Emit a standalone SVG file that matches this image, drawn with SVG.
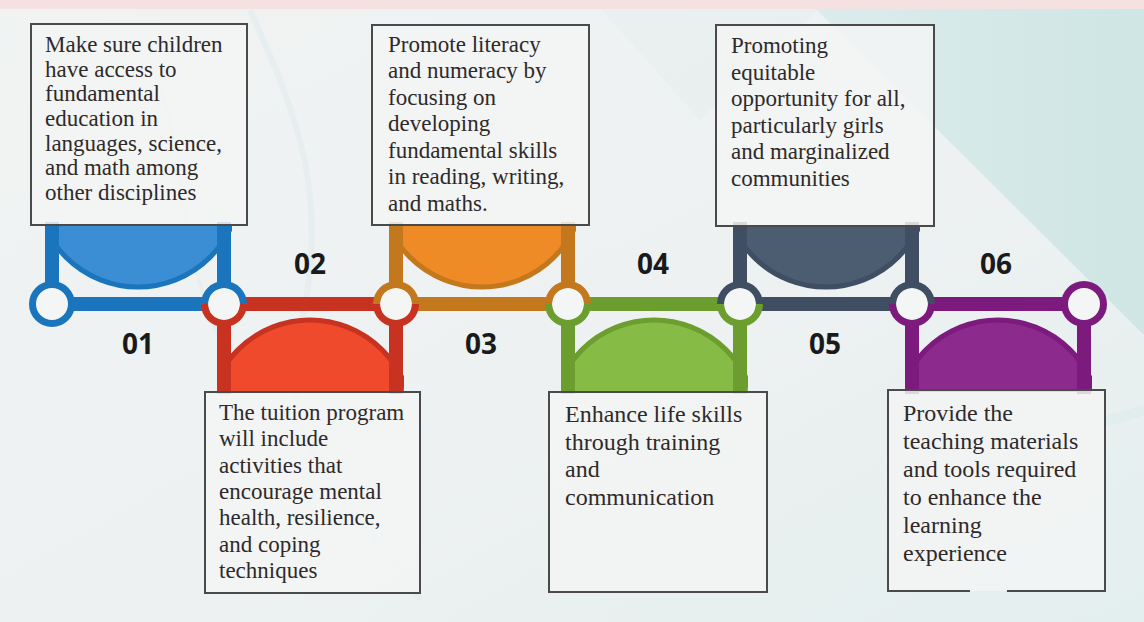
<svg xmlns="http://www.w3.org/2000/svg" width="1144" height="622" viewBox="0 0 1144 622">
<defs>
<style>
.box{fill:#f3f5f5;fill-opacity:0.85;stroke:#4a4a4a;stroke-width:2}
.txt{font-family:"Liberation Serif","Times New Roman",serif;font-size:23px;fill:#2e2a2a}
.num{font-family:"Open Sans","Liberation Sans",sans-serif;font-weight:700;font-size:28px;fill:#1a1a1a;text-anchor:middle}
.hole{fill:#f4f6f6}
</style>
<linearGradient id="bg" x1="0" y1="0" x2="1" y2="1">
<stop offset="0" stop-color="#f1f3f3"/>
<stop offset="0.6" stop-color="#edf1f1"/>
<stop offset="1" stop-color="#e3eeee"/>
</linearGradient>
<linearGradient id="teal" x1="0" y1="0" x2="1" y2="0">
<stop offset="0" stop-color="#dbeceb"/>
<stop offset="1" stop-color="#cfe6e4"/>
</linearGradient>
<clipPath id="c1"><rect x="45" y="225" width="187" height="80"/></clipPath>
<clipPath id="c2"><rect x="217" y="304" width="187" height="88"/></clipPath>
<clipPath id="c3"><rect x="389" y="225" width="187" height="80"/></clipPath>
<clipPath id="c4"><rect x="561" y="304" width="187" height="88"/></clipPath>
<clipPath id="c5"><rect x="733" y="225" width="187" height="80"/></clipPath>
<clipPath id="c6"><rect x="905" y="304" width="187" height="88"/></clipPath>
</defs>

<!-- background -->
<rect x="0" y="0" width="1144" height="622" fill="url(#bg)"/>
<polygon points="815,8 1144,8 1144,335" fill="url(#teal)"/>
<polygon points="600,8 820,8 700,120" fill="#e6efef" opacity="0.6"/>
<rect x="0" y="0" width="1144" height="9" fill="#f6e1e2"/>
<path d="M250,10 C300,120 330,200 300,330 S360,500 420,600" fill="none" stroke="#d5e6ea" stroke-width="6" opacity="0.3"/>
<path d="M150,60 C190,140 170,260 240,380" fill="none" stroke="#dbe8ec" stroke-width="4" opacity="0.3"/>
<path d="M900,470 C980,430 1060,440 1144,410" fill="none" stroke="#dbe9ea" stroke-width="10" opacity="0.5"/>

<!-- step frames -->
<g id="step-01">
<circle cx="138" cy="185" r="102" fill="#3b8ed3" stroke="#1b75bc" stroke-width="5" clip-path="url(#c1)"/>
<path d="M52,222 V304 H224 V222" fill="none" stroke="#1b75bc" stroke-width="14"/>
</g>
<g id="step-02">
<circle cx="310" cy="422" r="102" fill="#ef4a2c" stroke="#c83220" stroke-width="5" clip-path="url(#c2)"/>
<path d="M224,394 V304 H396 V394" fill="none" stroke="#c83220" stroke-width="14"/>
</g>
<g id="step-03">
<circle cx="482" cy="185" r="102" fill="#ef8b26" stroke="#c4781d" stroke-width="5" clip-path="url(#c3)"/>
<path d="M396,222 V304 H568 V222" fill="none" stroke="#c4781d" stroke-width="14"/>
</g>
<g id="step-04">
<circle cx="654" cy="422" r="102" fill="#86bb46" stroke="#6c9d2f" stroke-width="5" clip-path="url(#c4)"/>
<path d="M568,394 V304 H740 V394" fill="none" stroke="#6c9d2f" stroke-width="14"/>
</g>
<g id="step-05">
<circle cx="826" cy="185" r="102" fill="#4c5d72" stroke="#3f4e62" stroke-width="5" clip-path="url(#c5)"/>
<path d="M740,222 V304 H912 V222" fill="none" stroke="#3f4e62" stroke-width="14"/>
</g>
<g id="step-06">
<circle cx="998" cy="422" r="102" fill="#8c2a8d" stroke="#7d1a7e" stroke-width="5" clip-path="url(#c6)"/>
<path d="M912,394 V304 H1084 V394" fill="none" stroke="#7d1a7e" stroke-width="14"/>
</g>

<!-- rings (joints) -->
<g id="connectors" fill="none" stroke-width="7">
<circle cx="52" cy="304" r="19.5" class="hole" stroke="#1b75bc"/>
<g>
<circle cx="224" cy="304" r="16" class="hole" stroke="none"/>
<path d="M204.5,304 A19.5,19.5 0 0 1 243.5,304" stroke="#1b75bc"/>
<path d="M204.5,304 A19.5,19.5 0 0 0 243.5,304" stroke="#c83220"/>
</g>
<g>
<circle cx="396" cy="304" r="16" class="hole" stroke="none"/>
<path d="M376.5,304 A19.5,19.5 0 0 1 415.5,304" stroke="#c4781d"/>
<path d="M376.5,304 A19.5,19.5 0 0 0 415.5,304" stroke="#c83220"/>
</g>
<g>
<circle cx="568" cy="304" r="16" class="hole" stroke="none"/>
<path d="M548.5,304 A19.5,19.5 0 0 1 587.5,304" stroke="#c4781d"/>
<path d="M548.5,304 A19.5,19.5 0 0 0 587.5,304" stroke="#6c9d2f"/>
</g>
<g>
<circle cx="740" cy="304" r="16" class="hole" stroke="none"/>
<path d="M720.5,304 A19.5,19.5 0 0 1 759.5,304" stroke="#3f4e62"/>
<path d="M720.5,304 A19.5,19.5 0 0 0 759.5,304" stroke="#6c9d2f"/>
</g>
<g>
<circle cx="912" cy="304" r="16" class="hole" stroke="none"/>
<path d="M892.5,304 A19.5,19.5 0 0 1 931.5,304" stroke="#3f4e62"/>
<path d="M892.5,304 A19.5,19.5 0 0 0 931.5,304" stroke="#7d1a7e"/>
</g>
<circle cx="1084" cy="304" r="19.5" class="hole" stroke="#7d1a7e"/>
</g>

<!-- numbers -->
<g id="numbers">
<text class="num" x="138" y="354">01</text>
<text class="num" x="310" y="274">02</text>
<text class="num" x="481" y="354">03</text>
<text class="num" x="653" y="274">04</text>
<text class="num" x="825" y="354">05</text>
<text class="num" x="996" y="274">06</text>
</g>

<!-- text boxes -->
<g id="box-01">
<rect class="box" x="31" y="24" width="216" height="201"/>
<text class="txt" x="45" y="52">
<tspan x="45" y="52">Make sure children</tspan>
<tspan x="45" y="77">have access to</tspan>
<tspan x="45" y="101">fundamental</tspan>
<tspan x="45" y="126">education in</tspan>
<tspan x="45" y="151">languages, science,</tspan>
<tspan x="45" y="175">and math among</tspan>
<tspan x="45" y="200">other disciplines</tspan>
</text>
</g>
<g id="box-02">
<rect class="box" x="205" y="392" width="215" height="201"/>
<text class="txt" x="219" y="420">
<tspan x="219" y="420">The tuition program</tspan>
<tspan x="219" y="446">will include</tspan>
<tspan x="219" y="473">activities that</tspan>
<tspan x="219" y="499">encourage mental</tspan>
<tspan x="219" y="525">health, resilience,</tspan>
<tspan x="219" y="552">and coping</tspan>
<tspan x="219" y="578">techniques</tspan>
</text>
</g>
<g id="box-03">
<rect class="box" x="372" y="25" width="217" height="200"/>
<text class="txt" x="388" y="52">
<tspan x="388" y="52">Promote literacy</tspan>
<tspan x="388" y="78">and numeracy by</tspan>
<tspan x="388" y="105">focusing on</tspan>
<tspan x="388" y="131">developing</tspan>
<tspan x="388" y="158">fundamental skills</tspan>
<tspan x="388" y="184">in reading, writing,</tspan>
<tspan x="388" y="211">and maths.</tspan>
</text>
</g>
<g id="box-04">
<rect class="box" x="549" y="392" width="218" height="200"/>
<text class="txt" x="565" y="422" style="font-size:24px">
<tspan x="565" y="422">Enhance life skills</tspan>
<tspan x="565" y="450">through training</tspan>
<tspan x="565" y="477">and</tspan>
<tspan x="565" y="505">communication</tspan>
</text>
</g>
<g id="box-05">
<rect class="box" x="716" y="25" width="218" height="201"/>
<text class="txt" x="731" y="53">
<tspan x="731" y="53">Promoting</tspan>
<tspan x="731" y="80">equitable</tspan>
<tspan x="731" y="106">opportunity for all,</tspan>
<tspan x="731" y="133">particularly girls</tspan>
<tspan x="731" y="159">and marginalized</tspan>
<tspan x="731" y="186">communities</tspan>
</text>
</g>
<g id="box-06">
<rect x="888" y="390" width="217" height="201" fill="#f3f5f5" fill-opacity="0.85"/>
<path d="M970,591 H888 V390 H1105 V591 H1007" fill="none" stroke="#4a4a4a" stroke-width="2"/>
<text class="txt" x="903" y="421" style="font-size:24px">
<tspan x="903" y="421">Provide the</tspan>
<tspan x="903" y="449">teaching materials</tspan>
<tspan x="903" y="477">and tools required</tspan>
<tspan x="903" y="505">to enhance the</tspan>
<tspan x="903" y="533">learning</tspan>
<tspan x="903" y="561">experience</tspan>
</text>
</g>
</svg>
